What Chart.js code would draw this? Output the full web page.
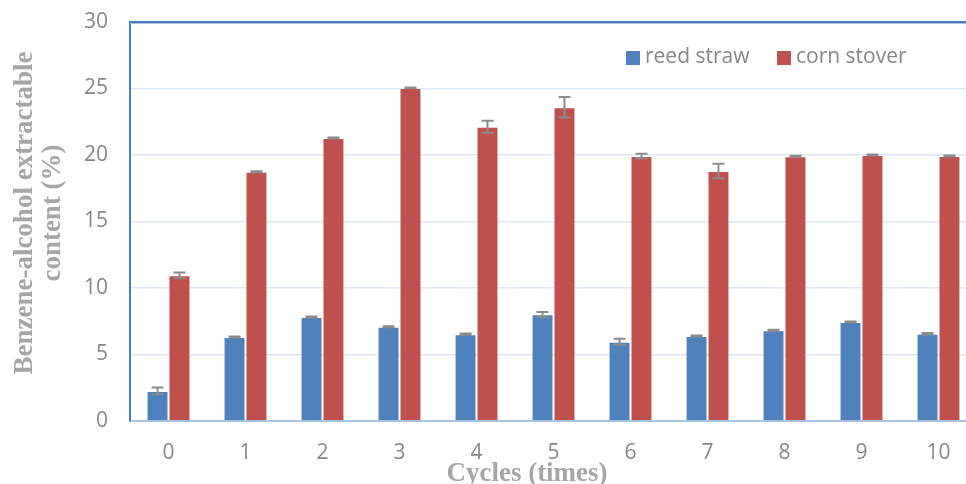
<!DOCTYPE html>
<html>
<head>
<meta charset="utf-8">
<script src="https://cdn.jsdelivr.net/npm/chart.js@4.4.1/dist/chart.umd.min.js"></script>
<style>
  html, body { margin: 0; padding: 0; background: #ffffff; overflow: hidden; }
  #frame { width: 966px; height: 484px; overflow: hidden; position: relative; }
  #box { width: 977px; height: 490px; position: absolute; left: 0; top: 0; }
</style>
</head>
<body>
<div id="frame"><div id="box"><canvas id="chart"></canvas></div></div>
<script>
// Cycle numbers along the x axis
const cycles = ['0', '1', '2', '3', '4', '5', '6', '7', '8', '9', '10'];

// Benzene-alcohol extractable content (%) per cycle
const reedStraw = [2.26, 6.32, 7.82, 7.09, 6.52, 8.02, 5.96, 6.39, 6.82, 7.44, 6.56];
const cornStover = [10.95, 18.74, 21.28, 25.04, 22.13, 23.59, 19.92, 18.80, 19.90, 20.00, 19.92];

// Standard deviations shown as error bars
const reedStrawErr = [0.25, 0.04, 0.04, 0.04, 0.05, 0.18, 0.22, 0.04, 0.05, 0.04, 0.05];
const cornStoverErr = [0.22, 0.04, 0.04, 0.03, 0.45, 0.77, 0.17, 0.55, 0.04, 0.03, 0.04];

const seriesNames = ['reed straw', 'corn stover'];
const yTitleLines = ['Benzene-alcohol extractable', 'content (%)'];
const xTitle = 'Cycles (times)';

const BLUE = '#4f81bd';
const RED = '#c0504d';
const TEXT_GRAY = '#878787';
const TITLE_GRAY = '#a6a6a6';

// Draws +/- error bars over each bar using the y scale
const errorBars = {
  id: 'errorBars',
  afterDatasetsDraw(chart) {
    const ctx = chart.ctx;
    const y = chart.scales.y;
    ctx.save();
    ctx.strokeStyle = '#8c8c8c';
    ctx.lineWidth = 2;
    chart.data.datasets.forEach((ds, di) => {
      const meta = chart.getDatasetMeta(di);
      meta.data.forEach((bar, i) => {
        const v = ds.data[i];
        const e = ds.errors[i];
        const top = y.getPixelForValue(v + e);
        const bot = y.getPixelForValue(v - e);
        const x = bar.x;
        const cap = 6;
        ctx.beginPath();
        ctx.moveTo(x, top); ctx.lineTo(x, bot);
        ctx.moveTo(x - cap, top); ctx.lineTo(x + cap, top);
        ctx.moveTo(x - cap, bot); ctx.lineTo(x + cap, bot);
        ctx.stroke();
      });
    });
    ctx.restore();
  }
};

// Top frame line, legend inside the plot, and axis titles
const decorations = {
  id: 'decorations',
  afterDraw(chart) {
    const ctx = chart.ctx;
    const a = chart.chartArea;
    ctx.save();
    // frame line along the top of the plot
    ctx.strokeStyle = '#a7c0e0';
    ctx.lineWidth = 1;
    ctx.beginPath(); ctx.moveTo(a.left, a.top + 1.5); ctx.lineTo(chart.width, a.top + 1.5); ctx.stroke();
    ctx.strokeStyle = '#4a7ebb';
    ctx.lineWidth = 2;
    ctx.beginPath(); ctx.moveTo(a.left - 1, a.top); ctx.lineTo(chart.width, a.top); ctx.stroke();

    // legend
    ctx.font = '21px "Open Sans", sans-serif';
    ctx.textBaseline = 'middle';
    ctx.textAlign = 'left';
    const items = [
      { x: 626, color: BLUE, label: chart.data.datasets[0].label },
      { x: 777, color: RED, label: chart.data.datasets[1].label }
    ];
    items.forEach(it => {
      ctx.fillStyle = it.color;
      ctx.fillRect(it.x, 51, 14, 14);
      ctx.fillStyle = TEXT_GRAY;
      ctx.fillText(it.label, it.x + 19, 57);
    });

    // axis titles
    ctx.fillStyle = TITLE_GRAY;
    ctx.font = 'bold 27px "Liberation Serif", "Times New Roman", serif';
    ctx.textAlign = 'center';
    ctx.textBaseline = 'middle';
    ctx.save();
    ctx.translate(25, 213);
    ctx.rotate(-Math.PI / 2);
    ctx.fillText(yTitleLines[0], 0, 0);
    ctx.fillText(yTitleLines[1], 0, 28);
    ctx.restore();
    ctx.fillText(xTitle, 527, 474);
    ctx.restore();
  }
};

new Chart(document.getElementById('chart'), {
  type: 'bar',
  data: {
    labels: cycles,
    datasets: [
      { label: seriesNames[0], data: reedStraw, errors: reedStrawErr,
        backgroundColor: BLUE, borderColor: 'rgba(255,255,255,0.3)', borderWidth: 1 },
      { label: seriesNames[1], data: cornStover, errors: cornStoverErr,
        backgroundColor: RED, borderColor: 'rgba(255,255,255,0.3)', borderWidth: 1 }
    ]
  },
  options: {
    responsive: true,
    maintainAspectRatio: false,
    animation: false,
    devicePixelRatio: 1,
    layout: { padding: { top: 22, left: 0, right: 0, bottom: 0 } },
    datasets: { bar: { categoryPercentage: 0.57, barPercentage: 1.0 } },
    plugins: { legend: { display: false }, tooltip: { enabled: false } },
    scales: {
      x: {
        afterFit(s) { s.height = 69; s.paddingLeft = 0; s.paddingRight = 0; },
        grid: { display: false, drawTicks: false },
        border: { display: true, color: '#a9c4e6', width: 2 },
        ticks: { color: TEXT_GRAY, font: { family: '"Open Sans", sans-serif', size: 21 }, padding: 19 }
      },
      y: {
        min: 0, max: 30,
        afterFit(s) { s.width = 130; s.paddingTop = 0; s.paddingBottom = 0; },
        grid: { color: '#dde7f3', lineWidth: 1.5, drawTicks: false },
        border: { display: true, color: '#4a7ebb', width: 2 },
        ticks: { stepSize: 5, color: TEXT_GRAY, font: { family: '"Open Sans", sans-serif', size: 21 }, padding: 22 }
      }
    }
  },
  plugins: [errorBars, decorations]
});
</script>
</body>
</html>
